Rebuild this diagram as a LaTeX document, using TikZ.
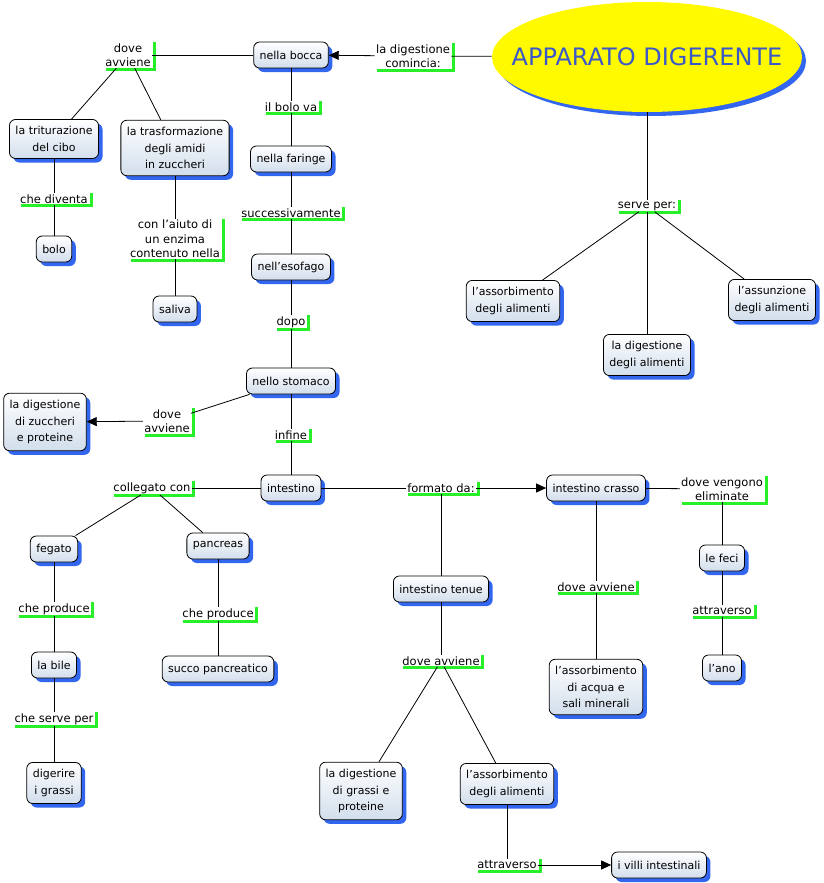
\documentclass[tikz,border=0pt]{standalone}
\usepackage{fontspec}
\setmainfont{DejaVu Sans}
\usetikzlibrary{shapes.geometric,shadows,arrows.meta,backgrounds}
\definecolor{shadowblue}{RGB}{51,102,238}
\definecolor{markgreen}{RGB}{40,240,40}
\definecolor{titleblue}{RGB}{58,88,200}
\definecolor{boxbottom}{RGB}{210,222,236}
\definecolor{mapyellow}{RGB}{255,250,0}
\newcommand{\shadowcolor}{shadowblue}
\newcommand{\markcolor}{markgreen}
\newcommand{\offset}{4pt}

\tikzset{
  concept/.style={draw, line width=0.8pt, rounded corners=6pt,
    top color=white, bottom color=boxbottom, align=center,
    font=\fontsize{11}{16.5}\selectfont, inner xsep=6pt, inner ysep=7pt,
    minimum height=26pt,
    drop shadow={shadow xshift=\offset, shadow yshift=-\offset, fill=\shadowcolor, opacity=1}},
  maintitle/.style={ellipse, fill=mapyellow, minimum width=310pt, minimum height=110pt,
    inner sep=0pt,
    drop shadow={shadow xshift=\offset, shadow yshift=-\offset, fill=\shadowcolor, opacity=1}},
  titletext/.style={font=\fontsize{24}{28}\selectfont, text=titleblue},
  linkph/.style={align=center, font=\fontsize{11.5}{14.5}\selectfont, inner sep=1pt},
  greenmark/.style={\markcolor, line width=3pt},
  tip/.style={-{Triangle[length=10pt,width=9pt]}}
}

\begin{document}
\begin{tikzpicture}[x=1pt, y=-1pt, line width=0.8pt]
\useasboundingbox (0,0) rectangle (824,883);
%concepts
\node[maintitle] (1) at (647, 57) [label={[titletext]center:APPARATO DIGERENTE}] {};
\node[concept] (2) at (291, 55) {nella bocca};
\node[concept] (3) at (54, 139) {la triturazione\\del cibo};
\node[concept] (4) at (175, 148) {la trasformazione\\degli amidi\\in zuccheri};
\node[concept] (5) at (291, 159) {nella faringe};
\node[concept] (6) at (54, 249) {bolo};
\node[concept] (7) at (291, 267) {nell'esofago};
\node[concept] (8) at (175, 309) {saliva};
\node[concept] (9) at (291, 381) {nello stomaco};
\node[concept] (10) at (45, 422) {la digestione\\di zuccheri\\e proteine};
\node[concept] (11) at (291, 488) {intestino};
\node[concept] (12) at (596, 488) {intestino crasso};
\node[concept] (13) at (54, 549) {fegato};
\node[concept] (14) at (218, 546) {pancreas};
\node[concept] (15) at (441, 589) {intestino tenue};
\node[concept] (16) at (722, 558) {le feci};
\node[concept] (17) at (54, 665) {la bile};
\node[concept] (18) at (218, 669) {succo pancreatico};
\node[concept] (19) at (596, 687) {l'assorbimento\\di acqua e\\sali minerali};
\node[concept] (20) at (722, 668) {l'ano};
\node[concept] (21) at (54, 783) {digerire\\i grassi};
\node[concept] (22) at (361, 791) {la digestione\\di grassi e\\proteine};
\node[concept] (23) at (507, 784) {l'assorbimento\\degli alimenti};
\node[concept] (24) at (659, 865) {i villi intestinali};
\node[concept] (25) at (513, 301) {l'assorbimento\\degli alimenti};
\node[concept] (26) at (647, 355) {la digestione\\degli alimenti};
\node[concept] (27) at (772, 300) {l'assunzione\\degli alimenti};
%linking phrases
\node[linkph] (l1) at (413, 56) {la digestione\\comincia:};
\node[linkph] (l2) at (128, 55) {dove\\avviene};
\node[linkph] (l3) at (291, 107) {il bolo va};
\node[linkph] (l4) at (54, 199) {che diventa};
\node[linkph] (l5) at (175, 239) {con l'aiuto di\\un enzima\\contenuto nella};
\node[linkph] (l6) at (291, 213) {successivamente};
\node[linkph] (l7) at (291, 322) {dopo};
\node[linkph] (l8) at (167, 421) {dove\\avviene};
\node[linkph] (l9) at (291, 435) {infine};
\node[linkph] (l10) at (152, 488) {collegato con};
\node[linkph] (l11) at (441, 488) {formato da:};
\node[linkph] (l12) at (722, 489) {dove vengono\\eliminate};
\node[linkph] (l13) at (54, 609) {che produce};
\node[linkph] (l14) at (218, 614) {che produce};
\node[linkph] (l15) at (596, 587) {dove avviene};
\node[linkph] (l16) at (722, 611) {attraverso};
\node[linkph] (l17) at (441, 661) {dove avviene};
\node[linkph] (l18) at (54, 719) {che serve per};
\node[linkph] (l19) at (507, 865) {attraverso};
\node[linkph] (l20) at (647, 206) {serve per:};
%green marks
\begin{scope}[on background layer]
\fill[white] (0,0) rectangle (824,883);
\draw[greenmark] ([xshift=2pt,yshift=-1pt]l1.south west) -| ([xshift=2pt]l1.north east);
\draw[greenmark] ([xshift=2pt,yshift=-1pt]l2.south west) -| ([xshift=2pt]l2.north east);
\draw[greenmark] ([xshift=2pt,yshift=-1pt]l3.south west) -| ([xshift=2pt]l3.north east);
\draw[greenmark] ([xshift=2pt,yshift=-1pt]l4.south west) -| ([xshift=2pt]l4.north east);
\draw[greenmark] ([xshift=2pt,yshift=-1pt]l5.south west) -| ([xshift=2pt]l5.north east);
\draw[greenmark] ([xshift=2pt,yshift=-1pt]l6.south west) -| ([xshift=2pt]l6.north east);
\draw[greenmark] ([xshift=2pt,yshift=-1pt]l7.south west) -| ([xshift=2pt]l7.north east);
\draw[greenmark] ([xshift=2pt,yshift=-1pt]l8.south west) -| ([xshift=2pt]l8.north east);
\draw[greenmark] ([xshift=2pt,yshift=-1pt]l9.south west) -| ([xshift=2pt]l9.north east);
\draw[greenmark] ([xshift=2pt,yshift=-1pt]l10.south west) -| ([xshift=2pt]l10.north east);
\draw[greenmark] ([xshift=2pt,yshift=-1pt]l11.south west) -| ([xshift=2pt]l11.north east);
\draw[greenmark] ([xshift=2pt,yshift=-1pt]l12.south west) -| ([xshift=2pt]l12.north east);
\draw[greenmark] ([xshift=2pt,yshift=-1pt]l13.south west) -| ([xshift=2pt]l13.north east);
\draw[greenmark] ([xshift=2pt,yshift=-1pt]l14.south west) -| ([xshift=2pt]l14.north east);
\draw[greenmark] ([xshift=2pt,yshift=-1pt]l15.south west) -| ([xshift=2pt]l15.north east);
\draw[greenmark] ([xshift=2pt,yshift=-1pt]l16.south west) -| ([xshift=2pt]l16.north east);
\draw[greenmark] ([xshift=2pt,yshift=-1pt]l17.south west) -| ([xshift=2pt]l17.north east);
\draw[greenmark] ([xshift=2pt,yshift=-1pt]l18.south west) -| ([xshift=2pt]l18.north east);
\draw[greenmark] ([xshift=2pt,yshift=-1pt]l19.south west) -| ([xshift=2pt]l19.north east);
\draw[greenmark] ([xshift=2pt,yshift=-1pt]l20.south west) -| ([xshift=2pt]l20.north east);
\end{scope}
%connectors
\draw (1) -- (l1);
\draw[tip] (l1) -- (2);
\draw (2) -- (l2);
\draw (l2) -- (3);
\draw (l2) -- (4);
\draw (2) -- (l3);
\draw (l3) -- (5);
\draw (5) -- (l6);
\draw (l6) -- (7);
\draw (7) -- (l7);
\draw (l7) -- (9);
\draw (9) -- (l9);
\draw (l9) -- (11);
\draw (3) -- (l4);
\draw (l4) -- (6);
\draw (4) -- (l5);
\draw (l5) -- (8);
\draw (9) -- (l8);
\draw[tip] (l8) -- (10);
\draw (11) -- (l10);
\draw (l10) -- (13);
\draw (l10) -- (14);
\draw (11) -- (l11);
\draw[tip] (l11) -- (12);
\draw (l11) -- (15);
\draw (12) -- (l12);
\draw (l12) -- (16);
\draw (16) -- (l16);
\draw (l16) -- (20);
\draw (12) -- (l15);
\draw (l15) -- (19);
\draw (13) -- (l13);
\draw (l13) -- (17);
\draw (17) -- (l18);
\draw (l18) -- (21);
\draw (14) -- (l14);
\draw (l14) -- (18);
\draw (15) -- (l17);
\draw (l17) -- (22);
\draw (l17) -- (23);
\draw (23) -- (l19);
\draw[tip] (l19) -- (24);
\draw (1) -- (l20);
\draw (l20) -- (25);
\draw (l20) -- (26);
\draw (l20) -- (27);
\end{tikzpicture}
\end{document}
